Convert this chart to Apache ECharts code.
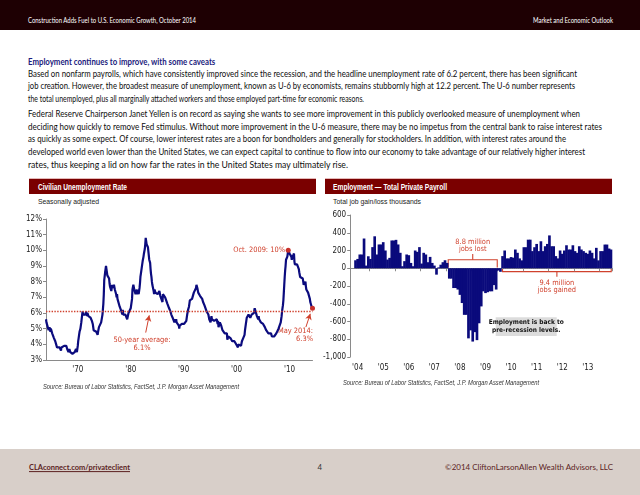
<!DOCTYPE html>
<html><head><meta charset="utf-8">
<script src="https://cdn.jsdelivr.net/npm/echarts@6/dist/echarts.min.js"></script>
<style>
html,body{margin:0;padding:0;}
body{width:640px;height:495px;position:relative;overflow:hidden;background:#fff;font-family:Lato,'Open Sans',sans-serif;}
.abs{position:absolute;white-space:nowrap;line-height:1;}
.t{transform:translateY(-50%);}
.body{font-size:8.8px;color:#0e0e0e;}
.hs{font-family:'Liberation Sans',Arial,sans-serif;}
.ttl{font-family:'Liberation Sans',Arial,sans-serif;font-weight:bold;color:#fff;font-size:8.8px;}
.bar{position:absolute;background:#7a0000;border-top:1px solid #e4b9b9;height:15px;top:178px;width:287px;}
</style></head>
<body>
<div class="abs" style="left:0;top:0;width:640px;height:30px;background:#1e0003;"></div>
<div class="abs t" style="left:28px;top:20px;font-size:6.8px;color:#fff;" data-w="168">Construction Adds Fuel to U.S. Economic Growth, October 2014</div>
<div class="abs t" style="left:533px;top:20px;font-size:6.8px;color:#fff;" data-w="80">Market and Economic Outlook</div>

<div id="head" class="abs t body" style="left:28px;top:62px;font-weight:bold;color:#1b1b7d;">Employment continues to improve, with some caveats</div>
<div id="l1" class="abs t body" style="left:28px;top:73.5px;" data-w="549">Based on nonfarm payrolls, which have consistently improved since the recession, and the headline unemployment rate of 6.2 percent, there has been significant</div>
<div class="abs t body" style="left:28px;top:86.2px;" data-w="547">job creation. However, the broadest measure of unemployment, known as U-6 by economists, remains stubbornly high at 12.2 percent. The U-6 number represents</div>
<div class="abs t body" style="left:28px;top:98.9px;" data-w="336">the total unemployed, plus all marginally attached workers and those employed part-time for economic reasons.</div>
<div class="abs t body" style="left:28px;top:114px;" data-w="552">Federal Reserve Chairperson Janet Yellen is on record as saying she wants to see more improvement in this publicly overlooked measure of unemployment when</div>
<div class="abs t body" style="left:28px;top:126.7px;" data-w="574">deciding how quickly to remove Fed stimulus. Without more improvement in the U-6 measure, there may be no impetus from the central bank to raise interest rates</div>
<div class="abs t body" style="left:28px;top:139.4px;" data-w="538">as quickly as some expect. Of course, lower interest rates are a boon for bondholders and generally for stockholders. In addition, with interest rates around the</div>
<div class="abs t body" style="left:28px;top:152.1px;" data-w="557">developed world even lower than the United States, we can expect capital to continue to flow into our economy to take advantage of our relatively higher interest</div>
<div class="abs t body" style="left:28px;top:164.8px;" data-w="320">rates, thus keeping a lid on how far the rates in the United States may ultimately rise.</div>

<div class="bar" style="left:29px;"></div>
<div class="bar" style="left:325px;"></div>
<div class="abs t ttl" style="left:37.7px;top:186.5px;" data-w="89">Civilian Unemployment Rate</div>
<div class="abs t ttl" style="left:333.3px;top:186.5px;" data-w="114">Employment — Total Private Payroll</div>
<div class="abs t hs" style="left:37.7px;top:201.7px;font-size:6.9px;color:#222;" data-w="61">Seasonally adjusted</div>
<div class="abs t hs" style="left:332.7px;top:201.7px;font-size:6.9px;color:#222;" data-w="88">Total job gain/loss thousands</div>

<div id="c1" class="abs" style="left:0;top:205px;width:320px;height:180px;"></div>
<div id="c2" class="abs" style="left:320px;top:205px;width:320px;height:180px;"></div>

<div class="abs t hs" style="left:43.3px;top:387px;font-size:6.4px;font-style:italic;color:#333;" data-w="196">Source: Bureau of Labor Statistics, FactSet, J.P. Morgan Asset Management</div>
<div class="abs t hs" style="left:342.7px;top:382.7px;font-size:6.4px;font-style:italic;color:#333;" data-w="196">Source: Bureau of Labor Statistics, FactSet, J.P. Morgan Asset Management</div>

<div class="abs" style="left:0;top:449px;width:640px;height:46px;background:#d8cfc9;"></div>
<div class="abs t" style="left:28.7px;top:468px;font-size:7.8px;font-weight:bold;color:#5b1e1e;text-decoration:underline;" data-w="101">CLAconnect.com/privateclient</div>
<div class="abs t" style="left:317.5px;top:468px;font-size:7.8px;color:#333;">4</div>
<div class="abs t" style="left:445px;top:468px;font-size:7.6px;color:#5b1e1e;" data-w="168">©2014 CliftonLarsonAllen Wealth Advisors, LLC</div>

<script>
// ---------- Data: civilian unemployment rate, monthly, Jan 1964 - May 2014 (%) ----------
const rateStart = [1964, 1];
const rate1960s = [
5.6,5.4,5.4,5.3,5.1,5.2,4.9,5.0,5.1,5.1,4.8,5.0,
4.9,5.1,4.7,4.8,4.6,4.6,4.4,4.4,4.3,4.2,4.1,4.0,
4.0,3.8,3.8,3.8,3.9,3.8,3.8,3.8,3.7,3.7,3.6,3.8,
3.9,3.8,3.8,3.8,3.8,3.9,3.8,3.8,3.8,4.0,3.9,3.8,
3.7,3.8,3.7,3.5,3.5,3.7,3.7,3.5,3.4,3.4,3.4,3.4,
3.4,3.4,3.4,3.4,3.4,3.5,3.5,3.5,3.7,3.7,3.5,3.5];
const rate1970s = [
3.9,4.2,4.4,4.6,4.8,4.9,5.0,5.1,5.4,5.5,5.9,6.1,
5.9,5.9,6.0,5.9,5.9,5.9,6.0,6.1,6.0,5.8,6.0,6.0,
5.8,5.7,5.8,5.7,5.7,5.7,5.6,5.6,5.5,5.6,5.3,5.2,
4.9,5.0,4.9,5.0,4.9,4.9,4.8,4.8,4.8,4.6,4.8,4.9,
5.1,5.2,5.1,5.1,5.1,5.4,5.5,5.5,5.9,6.0,6.6,7.2,
8.1,8.1,8.6,8.8,9.0,8.8,8.6,8.4,8.4,8.4,8.3,8.2,
7.9,7.7,7.6,7.7,7.4,7.6,7.8,7.8,7.6,7.7,7.8,7.8,
7.5,7.6,7.4,7.2,7.0,7.2,6.9,7.0,6.8,6.8,6.8,6.4,
6.4,6.3,6.3,6.1,6.0,5.9,6.2,5.9,6.0,5.8,5.9,6.0,
5.9,5.9,5.8,5.8,5.6,5.7,5.7,6.0,5.9,6.0,5.9,6.0];
const rate1980s = [
6.3,6.3,6.3,6.9,7.5,7.6,7.8,7.7,7.5,7.5,7.5,7.2,
7.5,7.4,7.4,7.2,7.5,7.5,7.2,7.4,7.6,7.9,8.3,8.5,
8.6,8.9,9.0,9.3,9.4,9.6,9.8,9.8,10.1,10.4,10.8,10.8,
10.4,10.4,10.3,10.2,10.1,10.1,9.4,9.5,9.2,8.8,8.5,8.3,
8.0,7.8,7.8,7.7,7.4,7.2,7.5,7.5,7.3,7.4,7.2,7.3,
7.3,7.2,7.2,7.3,7.2,7.4,7.4,7.1,7.1,7.1,7.0,7.0,
6.7,7.2,7.2,7.1,7.2,7.2,7.0,6.9,7.0,7.0,6.9,6.6,
6.6,6.6,6.6,6.3,6.3,6.2,6.1,6.0,5.9,6.0,5.8,5.7,
5.7,5.7,5.7,5.4,5.6,5.4,5.4,5.6,5.4,5.4,5.3,5.3,
5.4,5.2,5.0,5.2,5.2,5.3,5.2,5.2,5.3,5.3,5.4,5.4];
const rate1990s = [
5.4,5.3,5.2,5.4,5.4,5.2,5.5,5.7,5.9,5.9,6.2,6.3,
6.4,6.6,6.8,6.7,6.9,6.9,6.8,6.9,6.9,7.0,7.0,7.3,
7.3,7.4,7.4,7.4,7.6,7.8,7.7,7.6,7.6,7.3,7.4,7.4,
7.3,7.1,7.0,7.1,7.1,7.0,6.9,6.8,6.7,6.8,6.6,6.5,
6.6,6.6,6.5,6.4,6.1,6.1,6.1,6.0,5.9,5.8,5.6,5.5,
5.6,5.4,5.4,5.8,5.6,5.6,5.7,5.7,5.6,5.5,5.6,5.6,
5.6,5.5,5.5,5.6,5.6,5.3,5.5,5.1,5.2,5.2,5.4,5.4,
5.3,5.2,5.2,5.1,4.9,5.0,4.9,4.8,4.9,4.7,4.6,4.7,
4.6,4.6,4.7,4.3,4.4,4.5,4.5,4.5,4.6,4.5,4.4,4.4,
4.3,4.4,4.2,4.3,4.2,4.3,4.3,4.2,4.2,4.1,4.1,4.0];
const rate2000s = [
4.0,4.1,4.0,3.8,4.0,4.0,4.0,4.1,3.9,3.9,3.9,3.9,
4.2,4.2,4.3,4.4,4.3,4.5,4.6,4.9,5.0,5.3,5.5,5.7,
5.7,5.7,5.7,5.9,5.8,5.8,5.8,5.7,5.7,5.7,5.9,6.0,
5.8,5.9,5.9,6.0,6.1,6.3,6.2,6.1,6.1,6.0,5.8,5.7,
5.7,5.6,5.8,5.6,5.6,5.6,5.5,5.4,5.4,5.5,5.4,5.4,
5.3,5.4,5.2,5.2,5.1,5.0,5.0,4.9,5.0,5.0,5.0,4.9,
4.7,4.8,4.7,4.7,4.6,4.6,4.7,4.7,4.5,4.4,4.5,4.4,
4.6,4.5,4.4,4.5,4.4,4.6,4.7,4.6,4.7,4.7,4.7,5.0,
5.0,4.9,5.1,5.0,5.4,5.6,5.8,6.1,6.1,6.5,6.8,7.3,
7.8,8.3,8.7,9.0,9.4,9.5,9.5,9.6,9.8,10.0,9.9,9.9];
const rate2010s = [
9.8,9.8,9.9,9.9,9.6,9.4,9.4,9.5,9.5,9.4,9.8,9.3,
9.1,9.0,9.0,9.1,9.0,9.1,9.0,9.0,9.0,8.8,8.6,8.5,
8.3,8.3,8.2,8.2,8.2,8.2,8.2,8.0,7.8,7.8,7.7,7.9,
8.0,7.7,7.5,7.6,7.5,7.5,7.3,7.2,7.2,7.2,6.9,6.7,
6.6,6.7,6.7,6.3,6.3];
const rateAverage = [6.1];
const rateCallouts = [['2009-10', 10.0], ['2014-05', 6.3]];

// ---------- Data: total private payroll change, thousands, Apr 2004 - Jun 2014 ----------
const payStart = [2004, 4];
const pay2004 = [null,null,90,105,155,155,335,30,135];
const pay2005 = [105,238,360,155,268,268,294,200,98,117,313,313];
const pay2006 = [320,268,174,23,80,155,147,60,23,200,185,238];
const pay2007 = [53,174,155,68,128,60,30,-72,10,40,68,90];
const pay2008 = [60,-117,-117,-223,-223,-240,-300,-392,-525,-525,-790,-700];
const pay2009 = [-826,-720,-810,-620,-430,-260,-280,-270,-260,-260,-190,-240];
const pay2010 = [-26,-40,137,200,111,111,126,119,211,174,111,89];
const pay2011 = [237,237,322,322,193,237,274,193,304,193,248,274];
const pay2012 = [370,248,248,137,111,200,163,200,259,211,211,259];
const pay2013 = [193,174,248,211,193,174,163,200,174,111,230,89];
const pay2014 = [193,193,267,267,222,211];
const payLost = ['2008-02', '2009-12'];
const payGained = ['2010-03', '2014-06'];

const rateValues = [].concat(rate1960s, rate1970s, rate1980s, rate1990s, rate2000s, rate2010s);
const payValues = [].concat(pay2004, pay2005, pay2006, pay2007, pay2008, pay2009, pay2010, pay2011, pay2012, pay2013, pay2014);

function monthLabels(start, n) {
  const out = []; let y = start[0], m = start[1];
  for (let i = 0; i < n; i++) { out.push(y + '-' + String(m).padStart(2, '0')); m++; if (m > 12) { m = 1; y++; } }
  return out;
}
const rateMonths = monthLabels(rateStart, rateValues.length);
const payMonths = monthLabels(payStart, payValues.length);

// ---------- fit HTML text widths ----------
function fitText() {
  let base = 1;
  const l1 = document.getElementById('l1');
  document.querySelectorAll('[data-w]').forEach(el => {
    el.style.transform = 'translateY(-50%)';
    const w = el.getBoundingClientRect().width;
    const s = (+el.dataset.w) / w;
    if (el === l1) base = s;
    el.style.transformOrigin = 'left center';
    el.style.transform = 'translateY(-50%) scaleX(' + s.toFixed(4) + ')';
  });
  const h = document.getElementById('head');
  h.style.transformOrigin = 'left center';
  h.style.transform = 'translateY(-50%) scaleX(' + base.toFixed(4) + ')';
}
fitText();
if (document.fonts && document.fonts.ready) document.fonts.ready.then(fitText);

// ---------- Charts ----------
const F = "'DejaVu Sans Condensed','Liberation Sans',sans-serif";
const RED = '#d0412d', NAVY = '#0b0b7e', AX = '#8a8a8a';

const c1 = echarts.init(document.getElementById('c1'), null, {renderer: 'canvas'});
c1.setOption({
  animation: false,
  grid: {left: 46, right: 7.5, top: 14, bottom: 25},
  xAxis: {
    type: 'category', data: rateMonths, boundaryGap: false,
    axisLine: {lineStyle: {color: AX, width: 1}},
    axisTick: {show: false},
    axisLabel: {
      interval: (i, v) => v.slice(5) === '01' && (+v.slice(0, 4)) % 10 === 0,
      formatter: v => "'" + v.slice(2, 4), color: '#222', fontSize: 8, fontFamily: F, margin: 6
    },
    splitLine: {show: false}
  },
  yAxis: {
    type: 'value', min: 3, max: 12, interval: 1,
    axisLine: {show: true, lineStyle: {color: AX}},
    axisTick: {show: true, length: 3, lineStyle: {color: AX}},
    splitLine: {show: false},
    axisLabel: {formatter: '{value}%', color: '#222', fontSize: 8, fontFamily: F, margin: 4}
  },
  series: [{
    type: 'line', data: rateValues, showSymbol: false, silent: true,
    lineStyle: {color: NAVY, width: 2.2}, itemStyle: {color: NAVY},
    markLine: {
      silent: true, symbol: ['none', 'none'], label: {show: false},
      lineStyle: {color: RED, type: 'dotted', width: 1.4},
      data: [
        {yAxis: rateAverage[0]},
        [{coord: ['1982-11', 4.75], symbol: 'none', lineStyle: {type: 'solid', width: 1, color: RED}},
         {coord: ['1983-07', 5.85], symbol: 'arrow', symbolSize: [5, 6]}],
        [{coord: ['2013-02', 5.1], symbol: 'none', lineStyle: {type: 'solid', width: 1, color: RED}},
         {coord: ['2013-12', 5.95], symbol: 'arrow', symbolSize: [5, 6]}]
      ]
    },
    markPoint: {
      silent: true, symbol: 'circle', symbolSize: 5, itemStyle: {color: '#c8302a'}, label: {show: false},
      data: rateCallouts.map(d => ({coord: d}))
    }
  }],
  graphic: [
    {type: 'text', x: 142, y: 135, style: {text: '50-year average:', fill: RED, font: '7.4px ' + F, textAlign: 'center', textVerticalAlign: 'middle'}},
    {type: 'text', x: 142, y: 143.5, style: {text: rateAverage[0] + '%', fill: RED, font: '7.4px ' + F, textAlign: 'center', textVerticalAlign: 'middle'}},
    {type: 'text', x: 285, y: 45.5, style: {text: 'Oct. 2009: 10%', fill: RED, font: '7.4px ' + F, textAlign: 'right', textVerticalAlign: 'middle'}},
    {type: 'text', x: 313, y: 126.5, style: {text: 'May 2014:', fill: RED, font: '7.4px ' + F, textAlign: 'right', textVerticalAlign: 'middle'}},
    {type: 'text', x: 313, y: 134.5, style: {text: '6.3%', fill: RED, font: '7.4px ' + F, textAlign: 'right', textVerticalAlign: 'middle'}}
  ]
});

const c2 = echarts.init(document.getElementById('c2'), null, {renderer: 'canvas'});
const g2 = {left: 26.9, right: 27.7, top: 10, bottom: 28};
const bandW = (320 - g2.left - g2.right) / payMonths.length;
c2.setOption({
  animation: false,
  grid: g2,
  xAxis: {
    type: 'category', data: payMonths, boundaryGap: true,
    axisLine: {lineStyle: {color: AX, width: 1}},
    axisTick: {show: true, interval: (i, v) => v.slice(5) === '01', length: 3, lineStyle: {color: AX}},
    axisLabel: {
      interval: (i, v) => v.slice(5) === '07',
      formatter: v => "'" + v.slice(2, 4), color: '#222', fontSize: 8, fontFamily: F, margin: 7
    },
    splitLine: {show: false}
  },
  yAxis: {
    type: 'value', min: -1000, max: 600, interval: 200,
    axisLine: {show: true, lineStyle: {color: AX}},
    axisTick: {show: true, length: 3, lineStyle: {color: AX}},
    splitLine: {show: false},
    axisLabel: {formatter: v => v.toLocaleString('en-US'), color: '#222', fontSize: 8, fontFamily: F, margin: 4}
  },
  series: [{
    type: 'bar', data: payValues, barWidth: bandW + 0.5, silent: true,
    itemStyle: {color: '#0a0a7c'}
  }]
});

// annotations placed from the axes
(function () {
  const P = (c, v) => c2.convertToPixel({gridIndex: 0}, [c, v]);
  const lostA = P(payLost[0], 0), lostB = P(payLost[1], 0);
  const lx1 = lostA[0] - bandW / 2, lx2 = lostB[0] + bandW / 2, lcx = (lx1 + lx2) / 2;
  const ly = P(payLost[0], 95)[1], lyEnd = P(payLost[0], 8)[1], lyTick = P(payLost[0], 160)[1];
  const gainA = P(payGained[0], 0), gainB = P(payGained[1], 0);
  const gx1 = gainA[0], gx2 = gainB[0], gcx = (gx1 + gx2) / 2;
  const gy = P(payGained[0], -38)[1], gyEnd = P(payGained[0], 6)[1], gyTick = P(payGained[0], -95)[1];
  const lbl1 = P(payLost[0], 296)[1], lbl2 = P(payLost[0], 212)[1];
  const gl1 = P(payGained[0], -166)[1], gl2 = P(payGained[0], -250)[1];
  const ls = {stroke: RED, lineWidth: 1.1, fill: null};
  const tf = '7.4px ' + F;
  c2.setOption({graphic: [
    {type: 'polyline', shape: {points: [[lx1, lyEnd], [lx1, ly], [lx2, ly], [lx2, lyEnd]]}, style: ls},
    {type: 'line', shape: {x1: lcx, y1: ly, x2: lcx, y2: lyTick}, style: ls},
    {type: 'text', x: lcx, y: lbl1, style: {text: '8.8 million', fill: RED, font: tf, textAlign: 'center', textVerticalAlign: 'middle'}},
    {type: 'text', x: lcx, y: lbl2, style: {text: 'jobs lost', fill: RED, font: tf, textAlign: 'center', textVerticalAlign: 'middle'}},
    {type: 'polyline', shape: {points: [[gx1, gyEnd], [gx1, gy], [gx2, gy], [gx2, gyEnd]]}, style: ls},
    {type: 'line', shape: {x1: gcx, y1: gy, x2: gcx, y2: gyTick}, style: ls},
    {type: 'text', x: gcx, y: gl1, style: {text: '9.4 million', fill: RED, font: tf, textAlign: 'center', textVerticalAlign: 'middle'}},
    {type: 'text', x: gcx, y: gl2, style: {text: 'jobs gained', fill: RED, font: tf, textAlign: 'center', textVerticalAlign: 'middle'}},
    {type: 'rect', shape: {x: 175.7, y: 112.3, width: 61, height: 18.7}, style: {fill: '#dcdcdc'}},
    {type: 'text', x: 206.2, y: 117.6, style: {text: 'Employment is back to', fill: '#111', font: 'bold 6.5px ' + F, textAlign: 'center', textVerticalAlign: 'middle'}},
    {type: 'text', x: 206.2, y: 125.4, style: {text: 'pre-recession levels.', fill: '#111', font: 'bold 6.5px ' + F, textAlign: 'center', textVerticalAlign: 'middle'}}
  ]});
})();
</script>
</body></html>
